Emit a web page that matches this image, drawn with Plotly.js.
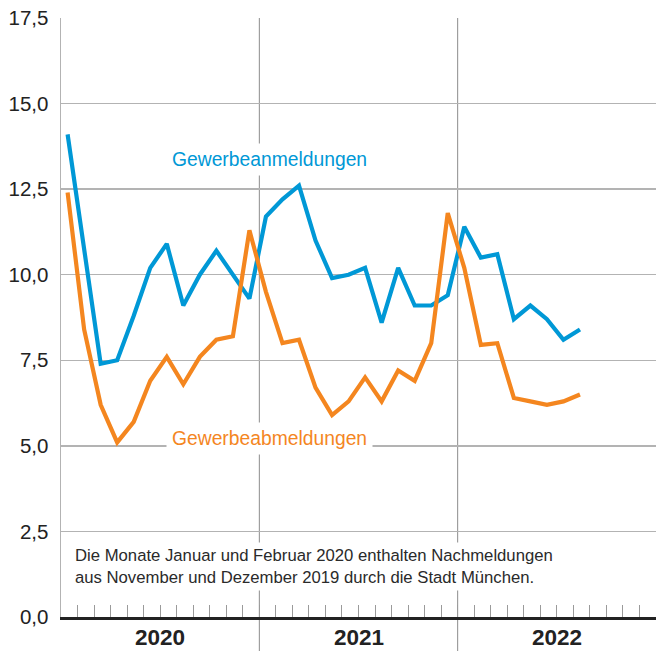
<!DOCTYPE html>
<html>
<head>
<meta charset="utf-8">
<script src="https://cdn.plot.ly/plotly-3.0.1.min.js"></script>
<style>html,body{margin:0;padding:0;background:#fff;}#chart{width:656px;height:651px;}</style>
</head>
<body>
<div id="chart"></div>
<script>
// Months Jan 2020 .. Aug 2022
var years = ["2020", "2021", "2022"];
var anmeldungen = [14.1, 10.7, 7.4, 7.5, 8.8, 10.2, 10.9, 9.1, 10.0, 10.7, 10.0, 9.3,
                   11.7, 12.2, 12.6, 11.0, 9.9, 10.0, 10.2, 8.6, 10.2, 9.1, 9.1, 9.4,
                   11.4, 10.5, 10.6, 8.7, 9.1, 8.7, 8.1, 8.4];
var abmeldungen = [12.4, 8.4, 6.2, 5.1, 5.7, 6.9, 7.6, 6.8, 7.6, 8.1, 8.2, 11.3,
                   9.5, 8.0, 8.1, 6.7, 5.9, 6.3, 7.0, 6.3, 7.2, 6.9, 8.0, 11.8,
                   10.2, 7.95, 8.0, 6.4, 6.3, 6.2, 6.3, 6.5];
var labelAn = "Gewerbeanmeldungen";
var labelAb = "Gewerbeabmeldungen";
var note = "Die Monate Januar und Februar 2020 enthalten Nachmeldungen<br>aus November und Dezember 2019 durch die Stadt München.";

var blue = "#0098d6";
var orange = "#f4861f";
var FONT = "Liberation Sans, Arial, sans-serif";
var monthPos = anmeldungen.map(function (v, i) { return i + 0.4; });
var monthPosAb = abmeldungen.map(function (v, i) { return i + 0.4; });
var monthBounds = [];
for (var k = 0; k <= 36; k++) monthBounds.push(k);

var traces = [
  {x: monthPos, y: anmeldungen, type: "scatter", mode: "lines", name: labelAn,
   line: {color: blue, width: 4.2}, hoverinfo: "skip"},
  {x: monthPosAb, y: abmeldungen, type: "scatter", mode: "lines", name: labelAb,
   line: {color: orange, width: 4.2}, hoverinfo: "skip"}
];

var ann = [
  {text: labelAn, xref: "paper", yref: "paper", x: 0.3504, y: 0.763, xanchor: "center", yanchor: "middle",
   showarrow: false, font: {family: FONT, size: 19.3, color: blue},
   bgcolor: "#ffffff", borderpad: 5},
  {text: labelAb, xref: "paper", yref: "paper", x: 0.3504, y: 0.2988, xanchor: "center", yanchor: "middle",
   showarrow: false, font: {family: FONT, size: 19.3, color: orange},
   bgcolor: "#ffffff", borderpad: 5},
  {text: note, xref: "paper", yref: "paper", x: 0.016, y: 0.0835, xanchor: "left", yanchor: "middle",
   align: "left", showarrow: false,
   font: {family: FONT, size: 16.7, color: "#2a2a2a"},
   bgcolor: "#ffffff", borderpad: 3}
];
years.forEach(function (yr, i) {
  ann.push({text: "<b>" + yr + "</b>", xref: "x", yref: "paper", x: 12 * i + 6, y: -0.0342,
            xanchor: "center", yanchor: "middle", showarrow: false,
            font: {family: FONT, size: 22.5, color: "#222"}});
});

var shapes = [12, 24].map(function (b) {
  return {type: "line", xref: "x", yref: "paper", x0: b, x1: b, y0: -0.06, y1: 1,
          line: {color: "#8c8c8c", width: 1}, layer: "below"};
});

var layout = {
  width: 656, height: 651,
  margin: {l: 61, r: 0, t: 18, b: 34, pad: 0},
  paper_bgcolor: "#ffffff", plot_bgcolor: "#ffffff",
  showlegend: false,
  separators: ", ",
  font: {family: FONT, color: "#222"},
  xaxis: {range: [0, 36], tickmode: "array", tickvals: monthBounds, showticklabels: false,
          ticks: "inside", ticklen: 12, tickcolor: "#9a9a9a", tickwidth: 1,
          showgrid: false, zeroline: false, showline: true, linecolor: "#222", linewidth: 2.5,
          fixedrange: true},
  yaxis: {range: [0, 17.5], tickmode: "linear", tick0: 0, dtick: 2.5, tickformat: ".1f",
          showgrid: true, gridcolor: "#b3b3b3", gridwidth: 1.5, zeroline: false,
          showline: true, linecolor: "#b3b3b3", linewidth: 1.5, ticks: "",
          ticklabelstandoff: 7,
          tickfont: {family: FONT, size: 20.5, color: "#222"},
          fixedrange: true},
  annotations: ann,
  shapes: shapes
};

Plotly.newPlot("chart", traces, layout, {displayModeBar: false, staticPlot: true});
</script>
</body>
</html>
